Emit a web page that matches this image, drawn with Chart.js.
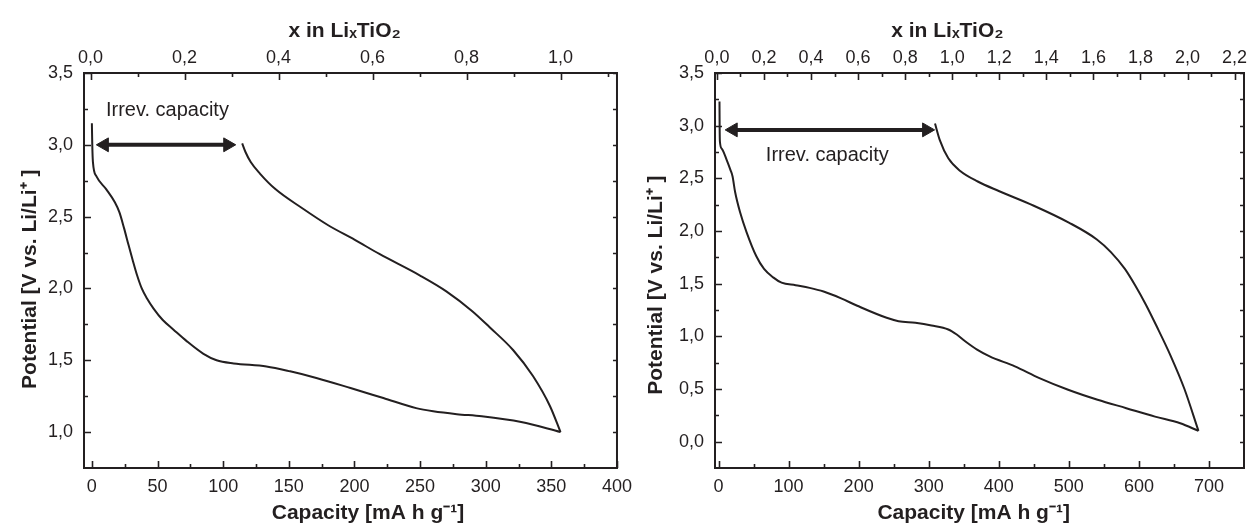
<!DOCTYPE html>
<html>
<head>
<meta charset="utf-8">
<script src="https://cdn.jsdelivr.net/npm/chart.js@4.4.1/dist/chart.umd.min.js"></script>
<style>
  body { margin: 0; background: #fff; }
  canvas { position: absolute; top: 0; }
  #left { left: 0; }
  #right { left: 640px; }
</style>
</head>
<body>
<canvas id="left" width="640" height="526"></canvas>
<canvas id="right" width="613" height="526"></canvas>
<script>
// left panel: first discharge then charge
const leftDischargeCap = [0, 0.3, 0.8, 3.5, 11, 17.5, 21, 24.5, 28, 31, 34.5, 38, 42, 47, 54, 62, 72, 85, 95, 108, 133, 151, 171, 197, 222, 247, 260, 278, 297, 327, 357];
const leftDischargeV = [3.15, 3.0, 2.88, 2.78, 2.69, 2.6, 2.53, 2.42, 2.3, 2.2, 2.09, 2.0, 1.93, 1.86, 1.78, 1.715, 1.635, 1.545, 1.5, 1.478, 1.457, 1.423, 1.377, 1.307, 1.237, 1.167, 1.145, 1.125, 1.11, 1.07, 1.0];
const leftChargeCap = [114.5, 117, 121, 128, 140, 160, 180, 200, 219, 250, 270, 290, 303, 321, 336, 349, 357];
const leftChargeV = [3.01, 2.95, 2.88, 2.8, 2.69, 2.56, 2.44, 2.34, 2.24, 2.09, 1.98, 1.84, 1.73, 1.57, 1.39, 1.18, 1.0];
const leftArrowCap = [9.5, 103.5];
const leftArrowV = [3.0, 3.0];

// right panel
const rightDischargeCap = [1.4, 1.6, 2, 4.8, 11.9, 17, 20, 23.7, 30.7, 40, 54, 65, 78, 90, 110, 130, 150, 175, 198, 240, 257, 281, 304, 328, 340, 352, 369, 387, 423, 458, 499, 541, 582, 623, 659, 685];
const rightDischargeV = [3.23, 3.0, 2.85, 2.78, 2.67, 2.58, 2.52, 2.37, 2.18, 1.99, 1.76, 1.64, 1.56, 1.51, 1.485, 1.46, 1.425, 1.36, 1.29, 1.176, 1.144, 1.128, 1.103, 1.065, 1.017, 0.953, 0.874, 0.81, 0.715, 0.604, 0.493, 0.398, 0.318, 0.238, 0.175, 0.102];
const rightChargeCap = [309, 316, 328, 345, 370, 400, 450, 500, 540, 560, 580, 595, 610, 625, 645, 665, 685];
const rightChargeV = [3.02, 2.86, 2.69, 2.57, 2.47, 2.38, 2.24, 2.08, 1.92, 1.8, 1.64, 1.48, 1.3, 1.1, 0.82, 0.5, 0.102];
const rightArrowCap = [21, 297];
const rightArrowV = [2.96, 2.96];

// tick marks
const leftCapMajor = [0, 50, 100, 150, 200, 250, 300, 350, 400];
const leftCapMinor = [25, 75, 125, 175, 225, 275, 325, 375];
const leftXMajor = [0, 0.2, 0.4, 0.6, 0.8, 1.0];
const leftXMinor = [0.1, 0.3, 0.5, 0.7, 0.9, 1.1];
const leftVMajor = [1.0, 1.5, 2.0, 2.5, 3.0, 3.5];
const leftVMinor = [1.25, 1.75, 2.25, 2.75, 3.25];

const rightCapMajor = [0, 100, 200, 300, 400, 500, 600, 700];
const rightCapMinor = [50, 150, 250, 350, 450, 550, 650];
const rightXMajor = [0, 0.2, 0.4, 0.6, 0.8, 1.0, 1.2, 1.4, 1.6, 1.8, 2.0, 2.2];
const rightXMinor = [0.1, 0.3, 0.5, 0.7, 0.9, 1.1, 1.3, 1.5, 1.7, 1.9, 2.1];
const rightVMajor = [0, 0.5, 1.0, 1.5, 2.0, 2.5, 3.0, 3.5];
const rightVMinor = [0.25, 0.75, 1.25, 1.75, 2.25, 2.75, 3.25];

const FONT = "'Liberation Sans', Arial, sans-serif";
const INK = '#231f20';
const comma = v => Number(v).toFixed(1).replace('.', ',');
const pts = (xs, ys) => xs.map((x, i) => ({ x: x, y: ys[i] }));
const sp = n => ' '.repeat(n);

// frame + inward ticks, drawn from the chart's own scales
function framePlugin(t) {
  return {
    id: 'frame',
    afterDatasetsDraw(chart) {
      const { ctx, chartArea: a, scales } = chart;
      ctx.save();
      ctx.strokeStyle = INK;
      ctx.lineWidth = 1.6;
      const mark = (id, values, len) => values.forEach(v => {
        const p = Math.round(scales[id].getPixelForValue(v)) + 0.5;
        ctx.beginPath();
        if (id === 'x') { ctx.moveTo(p, a.bottom); ctx.lineTo(p, a.bottom - len); }
        if (id === 'x2') { ctx.moveTo(p, a.top); ctx.lineTo(p, a.top + len); }
        if (id === 'y') {
          ctx.moveTo(a.left, p); ctx.lineTo(a.left + len, p);
          ctx.moveTo(a.right, p); ctx.lineTo(a.right - 4, p);
        }
        ctx.stroke();
      });
      ['x', 'x2', 'y'].forEach(id => {
        mark(id, t[id][0], 7);
        mark(id, t[id][1], 4);
      });
      ctx.lineWidth = 2;
      ctx.strokeRect(a.left, a.top, a.right - a.left, a.bottom - a.top);
      ctx.restore();
    }
  };
}

function notePlugin(text, cap, v) {
  return {
    id: 'note',
    afterDatasetsDraw(chart) {
      const { ctx, scales } = chart;
      ctx.save();
      ctx.font = '20px ' + FONT;
      ctx.fillStyle = INK;
      ctx.textBaseline = 'middle';
      ctx.fillText(text, scales.x.getPixelForValue(cap), scales.y.getPixelForValue(v));
      ctx.restore();
    }
  };
}

function makeChart(id, p) {
  const tickFont = { family: FONT, size: 18 };
  const titleFont = { family: FONT, size: 21, weight: 'bold' };
  const noGrid = { display: false, drawTicks: false };
  const setTicks = list => s => { s.ticks = list.map(v => ({ value: v })); };
  const curve = data => ({
    data: data, borderColor: INK, borderWidth: 2, pointRadius: 0,
    cubicInterpolationMode: 'monotone'
  });
  return new Chart(document.getElementById(id), {
    type: 'line',
    data: {
      datasets: [
        curve(p.discharge),
        curve(p.charge),
        {
          data: p.arrow, borderColor: INK, borderWidth: 4,
          pointStyle: 'triangle', pointRadius: 8, pointRotation: [-90, 90],
          pointBackgroundColor: INK, pointBorderColor: INK, pointBorderWidth: 1
        }
      ]
    },
    options: {
      responsive: false,
      animation: false,
      devicePixelRatio: 1,
      layout: { padding: { left: 0, right: p.padRight, top: 0, bottom: 0 } },
      plugins: { legend: { display: false }, tooltip: { enabled: false } },
      scales: {
        x: {
          type: 'linear', position: 'bottom', min: p.capRange[0], max: p.capRange[1],
          grid: noGrid, border: { display: false },
          ticks: { font: tickFont, color: INK, padding: 8, autoSkip: false, maxRotation: 0, callback: v => v },
          afterBuildTicks: setTicks(p.capTicks[0]),
          afterFit: s => { s.height = 58; },
          title: { display: true, text: p.capTitle, font: titleFont, color: INK, padding: { top: 0, bottom: 0 } }
        },
        x2: {
          type: 'linear', position: 'top', min: p.xRange[0], max: p.xRange[1],
          grid: noGrid, border: { display: false },
          ticks: { font: tickFont, color: INK, padding: 4, autoSkip: false, maxRotation: 0, callback: comma },
          afterBuildTicks: setTicks(p.xTicks[0]),
          afterFit: s => { s.height = 73; },
          title: { display: true, text: p.xTitle, font: titleFont, color: INK, padding: { top: 19, bottom: 0 } }
        },
        y: {
          type: 'linear', min: p.vRange[0], max: p.vRange[1],
          grid: noGrid, border: { display: false },
          ticks: { font: tickFont, color: INK, padding: 11, callback: comma },
          afterBuildTicks: setTicks(p.vTicks[0]),
          afterFit: s => { s.width = p.yWidth; },
          title: { display: true, text: p.vTitle, font: titleFont, color: INK, padding: { top: p.vTitlePad, bottom: 0 } }
        }
      }
    },
    plugins: [
      framePlugin({ x: p.capTicks, x2: p.xTicks, y: p.vTicks }),
      notePlugin('Irrev. capacity', p.note[0], p.note[1])
    ]
  });
}

makeChart('left', {
  discharge: pts(leftDischargeCap, leftDischargeV),
  charge: pts(leftChargeCap, leftChargeV),
  arrow: pts(leftArrowCap, leftArrowV),
  capRange: [-6, 400], xRange: [-0.014, 1.12], vRange: [0.75, 3.5],
  capTicks: [leftCapMajor, leftCapMinor],
  xTicks: [leftXMajor, leftXMinor],
  vTicks: [leftVMajor, leftVMinor],
  capTitle: sp(6) + 'Capacity [mA h g⁻¹]',
  xTitle: 'x in LiₓTiO₂' + sp(2),
  vTitle: 'Potential [V vs. Li/Li⁺ ]' + sp(3),
  vTitlePad: 18, yWidth: 84, padRight: 23,
  note: [10.7, 3.24]
});

makeChart('right', {
  discharge: pts(rightDischargeCap, rightDischargeV),
  charge: pts(rightChargeCap, rightChargeV),
  arrow: pts(rightArrowCap, rightArrowV),
  capRange: [-5, 750], xRange: [-0.008, 2.24], vRange: [-0.25, 3.5],
  capTicks: [rightCapMajor, rightCapMinor],
  xTicks: [rightXMajor, rightXMinor],
  vTicks: [rightVMajor, rightVMinor],
  capTitle: 'Capacity [mA h g⁻¹]' + sp(2),
  xTitle: 'x in LiₓTiO₂' + sp(11),
  vTitle: 'Potential [V vs. Li/Li⁺ ]' + sp(5),
  vTitlePad: 4, yWidth: 75, padRight: 5,
  note: [67.6, 2.72]
});
</script>
</body>
</html>
